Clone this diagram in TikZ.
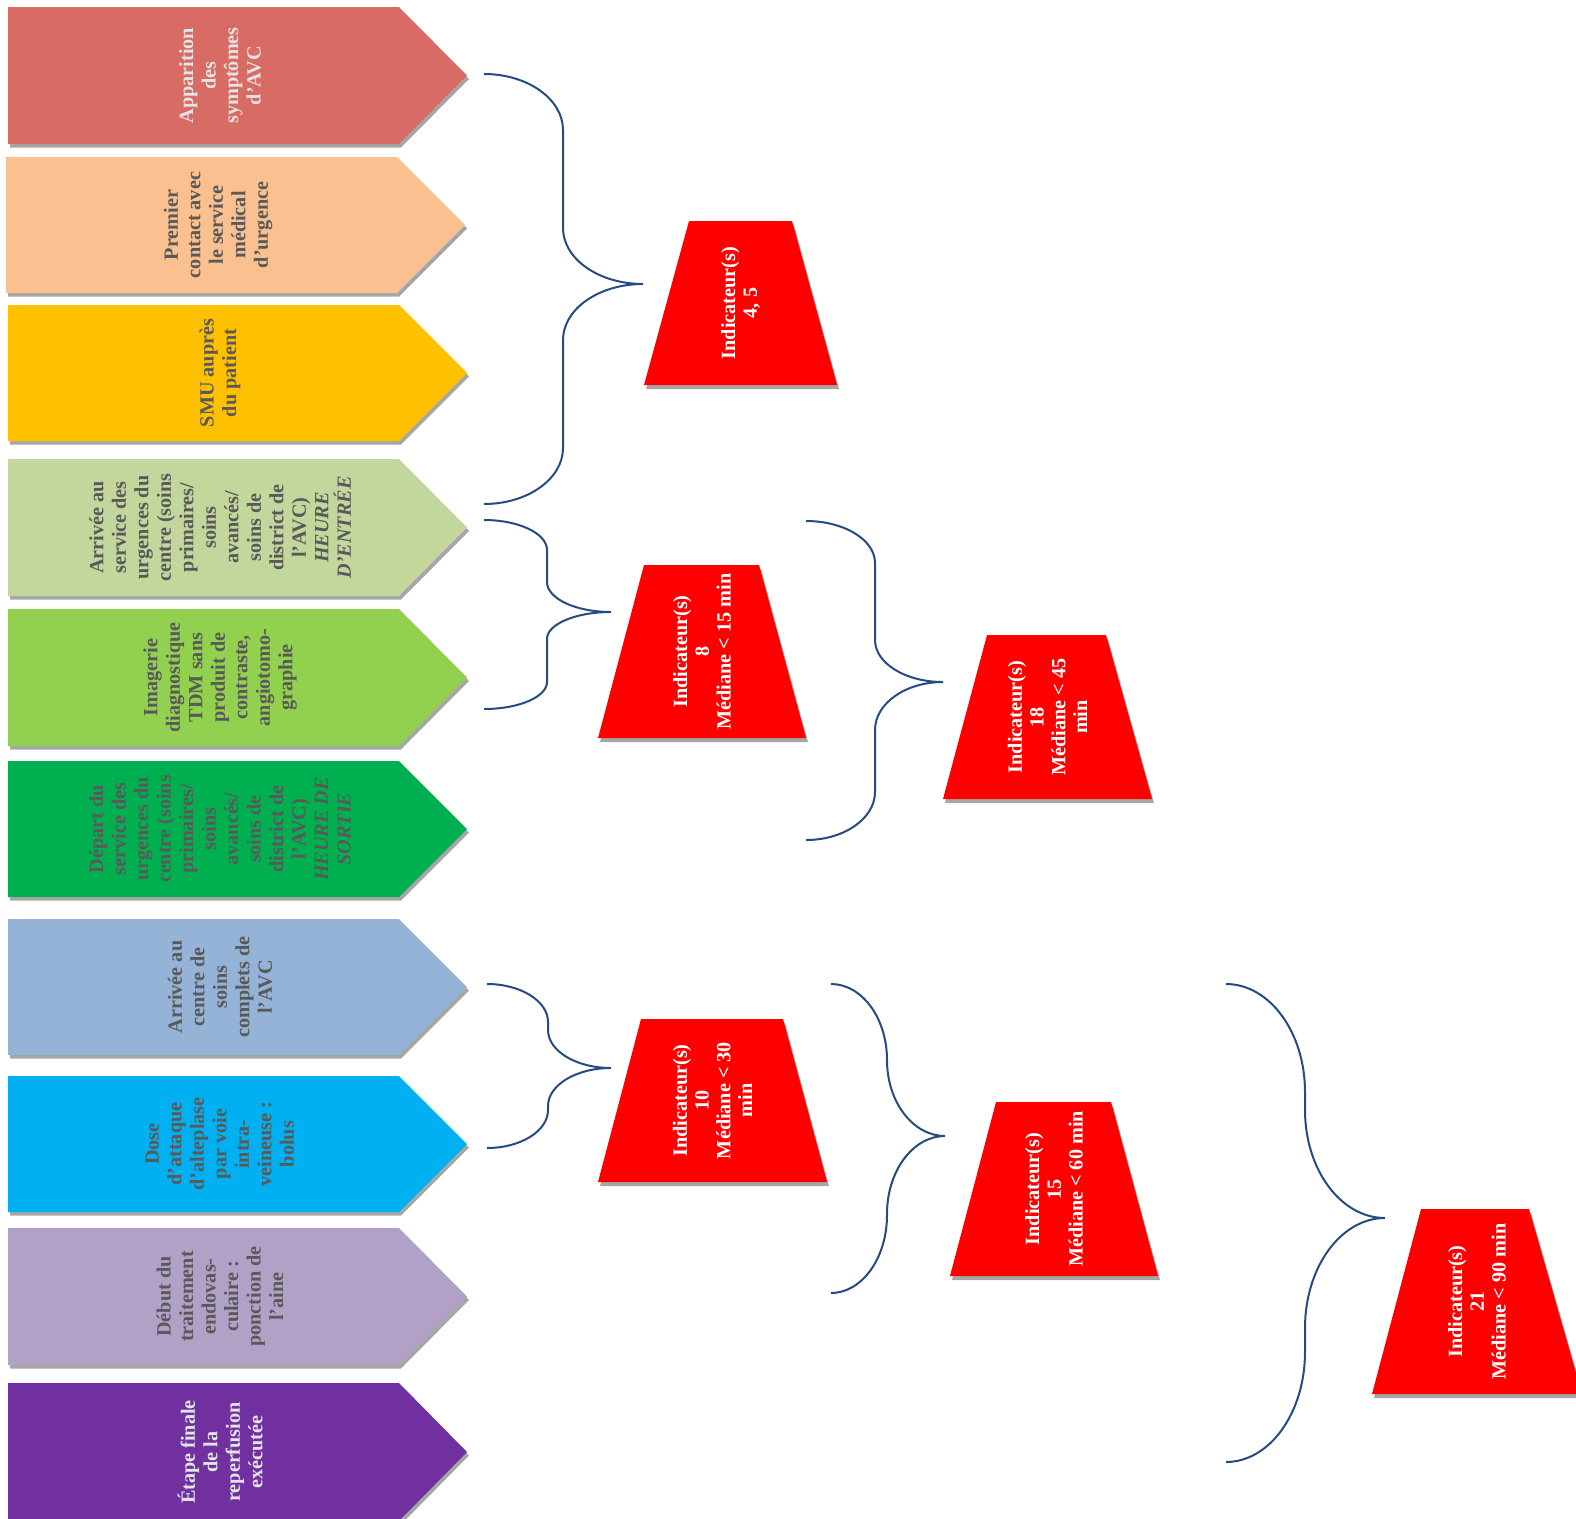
\documentclass[tikz,border=0pt]{standalone}
\usepackage{fontspec}
\setmainfont{Liberation Serif}
\definecolor{cA}{HTML}{D96B65}
\definecolor{cB}{HTML}{FAC090}
\definecolor{cC}{HTML}{FFC000}
\definecolor{cD}{HTML}{C3D69B}
\definecolor{cE}{HTML}{92D050}
\definecolor{cF}{HTML}{00B050}
\definecolor{cG}{HTML}{95B3D7}
\definecolor{cH}{HTML}{00B0F0}
\definecolor{cI}{HTML}{B2A1C7}
\definecolor{cJ}{HTML}{7030A0}
\definecolor{redbox}{HTML}{FF0000}
\definecolor{shadowgray}{HTML}{A6A6A6}
\definecolor{darktext}{HTML}{595959}
\definecolor{lighttext}{HTML}{E4E4E4}
\definecolor{bracecol}{HTML}{254B80}
\tikzset{
  lbl/.style={rotate=90, align=center, inner sep=0pt,
    font=\fontsize{20.2}{22.5}\selectfont\bfseries},
  traplbl/.style={rotate=90, align=center, inner sep=0pt, text=white,
    font=\fontsize{20.2}{21.7}\selectfont\bfseries},
  bracestyle/.style={draw=bracecol, line width=2pt},
}
% #1 optional x shift, #2 name, #3 top, #4 bottom, #5 fill, #6 text colour, #7 text
\newcommand\ArrowBox[7][0]{%
  \begin{scope}[xshift=#1]
    \fill[shadowgray, shift={(2,3.5)}] (8,#3) -- (399,#3) -- (467,{(#3+#4)/2}) -- (399,#4) -- (8,#4) -- cycle;
    \fill[#5] (8,#3) -- (399,#3) -- (467,{(#3+#4)/2}) -- (399,#4) -- (8,#4) -- cycle;
    \node[lbl, text=#6] (#2) at (220,{(#3+#4)/2}) {#7};
  \end{scope}}
% #1 name, #2 ytop, #3 ybot, #4 xtl, #5 xtr, #6 xbl, #7 xbr, #8 text
\newcommand\TrapBox[8]{%
  \fill[shadowgray, shift={(2,4)}] (#4,#2) -- (#5,#2) -- (#7,#3) -- (#6,#3) -- cycle;
  \fill[redbox] (#4,#2) -- (#5,#2) -- (#7,#3) -- (#6,#3) -- cycle;
  \node[traplbl] (#1) at ({(#6+#7)/2},{(#2+#3)/2}) {#8};}
% #1 x0, #2 ytop, #3 ybot, #4 xm, #5 xt, #6 yt, #7 rtop, #8 rbot, #9 name
\newcommand\BraceLine[9]{%
  \coordinate (#9-a) at (#1,#2);
  \coordinate (#9-tip) at (#5,#6);
  \coordinate (#9-b) at (#1,#3);
  \draw[bracestyle] (#9-a)
    .. controls ({#1+0.552*(#4-#1)},#2) and (#4,{#2+0.448*#7}) .. (#4,{#2+#7})
    -- (#4,{#6-#7})
    .. controls (#4,{#6-0.448*#7}) and ({#5-0.552*(#5-#4)},#6) .. (#9-tip)
    .. controls ({#5-0.552*(#5-#4)},#6) and (#4,{#6+0.448*#8}) .. (#4,{#6+#8})
    -- (#4,{#3-#8})
    .. controls (#4,{#3-0.448*#8}) and ({#1+0.552*(#4-#1)},#3) .. (#9-b);}
\begin{document}
\begin{tikzpicture}[x=1pt,y=-1pt]
\useasboundingbox (0,0) rectangle (1576,1518);
\clip (0,0) rectangle (1576,1518);

\ArrowBox{s1}{7}{144}{cA}{lighttext}{Apparition\\des\\symptômes\\d’AVC}
\ArrowBox[-2]{s2}{157}{293}{cB}{darktext}{Premier\\contact avec\\le service\\médical\\d’urgence}
\ArrowBox{s3}{305}{441}{cC}{darktext}{SMU auprès\\du patient}
\ArrowBox{s4}{459}{596}{cD}{darktext}{Arrivée au\\service des\\urgences du\\centre (soins\\primaires/\\soins\\avancés/\\soins de\\district de\\l’AVC)\\\textit{HEURE}\\\textit{D’ENTRÉE}}
\ArrowBox{s5}{609}{746}{cE}{darktext}{Imagerie\\diagnostique\\TDM sans\\produit de\\contraste,\\angiotomo-\\graphie}
\ArrowBox{s6}{761}{897}{cF}{darktext}{Départ du\\service des\\urgences du\\centre (soins\\primaires/\\soins\\avancés/\\soins de\\district de\\l’AVC)\\\textit{HEURE DE}\\\textit{SORTIE}}
\ArrowBox{s7}{919}{1055}{cG}{darktext}{Arrivée au\\centre de\\soins\\complets de\\l’AVC}
\ArrowBox{s8}{1076}{1212}{cH}{darktext}{Dose\\d’attaque\\d’alteplase\\par voie\\intra-\\veineuse :\\bolus}
\ArrowBox{s9}{1228}{1365}{cI}{darktext}{Début du\\traitement\\endovas-\\culaire :\\ponction de\\l’aine}
\ArrowBox{s10}{1383}{1521}{cJ}{lighttext}{Étape finale\\de la\\reperfusion\\exécutée}

\TrapBox{t1}{221}{385}{689}{792}{644}{837}{Indicateur(s)\\4, 5}
\TrapBox{t2}{565}{738}{644}{759}{598}{806}{Indicateur(s)\\8\\Médiane < 15 min}
\TrapBox{t3}{635}{799}{987}{1106}{943}{1152}{Indicateur(s)\\18\\Médiane < 45\\min}
\TrapBox{t4}{1019}{1182}{641}{783}{598}{827}{Indicateur(s)\\10\\Médiane < 30\\min}
\TrapBox{t5}{1102}{1276}{996}{1111}{950}{1158}{Indicateur(s)\\15\\Médiane < 60 min}
\TrapBox{t6}{1209}{1394}{1421}{1529}{1372}{1582}{Indicateur(s)\\21\\Médiane < 90 min}

\BraceLine{484}{74}{504}{563}{643}{284}{56}{56}{br1}
\BraceLine{484}{520}{709}{547}{611}{612}{30}{27}{br2}
\BraceLine{806}{521}{840}{875}{943}{682}{42}{48}{br3}
\BraceLine{487}{984}{1148}{548}{611}{1068}{38}{38}{br4}
\BraceLine{831}{984}{1293}{887}{945}{1136}{76}{78}{br5}
\BraceLine{1226}{984}{1462}{1305}{1385}{1218}{108}{110}{br6}
\end{tikzpicture}
\end{document}
